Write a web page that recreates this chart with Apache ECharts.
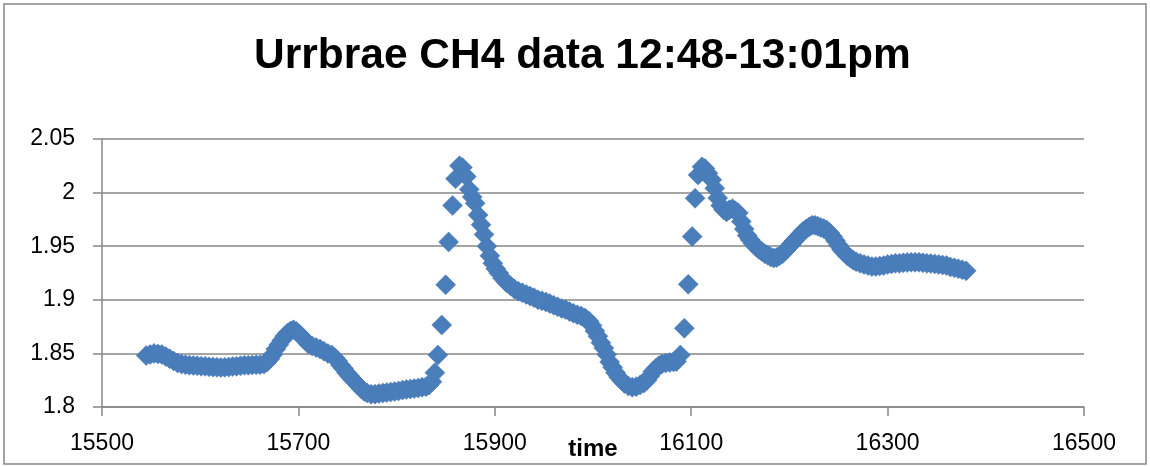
<!DOCTYPE html>
<html>
<head>
<meta charset="utf-8">
<title>Urrbrae CH4 data</title>
<script src="https://cdn.jsdelivr.net/npm/echarts@6/dist/echarts.min.js"></script>
<style>
  html, body { margin: 0; padding: 0; background: #fff; }
  #chart { width: 1150px; height: 466px; }
</style>
</head>
<body>
<div id="chart"></div>
<script>
// time stamps (x) and CH4 readings (y)
const times = [
  15545, 15549, 15553, 15557, 15561, 15565, 15569, 15573, 15577, 15581,
  15585, 15589, 15593, 15597, 15601, 15605, 15609, 15613, 15617, 15621,
  15625, 15629, 15633, 15637, 15641, 15645, 15649, 15653, 15657, 15661,
  15665, 15668, 15671, 15674, 15677, 15680, 15683, 15686, 15689, 15692,
  15695, 15698, 15701, 15704, 15707, 15710, 15714, 15718, 15722, 15726,
  15730, 15734, 15737, 15740, 15743, 15746, 15749, 15752, 15755, 15758,
  15761, 15764, 15767, 15770, 15774, 15778, 15782, 15786, 15790, 15794,
  15798, 15802, 15806, 15810, 15814, 15818, 15822, 15826, 15830, 15833,
  15836, 15839, 15842, 15846, 15850, 15853, 15857, 15860, 15864, 15867,
  15871, 15874, 15877, 15880, 15883, 15886, 15889, 15892, 15895, 15898,
  15901, 15904, 15908, 15912, 15916, 15920, 15924, 15928, 15932, 15936,
  15940, 15944, 15948, 15952, 15956, 15960, 15964, 15968, 15972, 15976,
  15980, 15984, 15988, 15992, 15996, 15999, 16002, 16005, 16008, 16011,
  16014, 16017, 16020, 16023, 16026, 16029, 16032, 16036, 16040, 16044,
  16048, 16052, 16055, 16058, 16061, 16064, 16067, 16070, 16074, 16078,
  16082, 16085, 16089, 16093, 16097, 16101, 16104, 16107, 16111, 16114,
  16117, 16121, 16124, 16127, 16130, 16133, 16136, 16139, 16142, 16145,
  16148, 16151, 16154, 16157, 16160, 16163, 16166, 16169, 16172, 16175,
  16178, 16181, 16184, 16187, 16190, 16193, 16196, 16199, 16202, 16205,
  16208, 16211, 16214, 16217, 16220, 16223, 16226, 16229, 16232, 16235,
  16238, 16241, 16244, 16247, 16250, 16253, 16256, 16259, 16262, 16265,
  16268, 16272, 16276, 16280, 16284, 16288, 16292, 16296, 16300, 16304,
  16308, 16312, 16316, 16320, 16324, 16328, 16332, 16336, 16340, 16344,
  16348, 16352, 16356, 16360, 16364, 16368, 16372, 16376, 16380
];

const ch4 = [
  1.848, 1.849, 1.850, 1.8495, 1.849, 1.847, 1.845, 1.843, 1.841, 1.840,
  1.8395, 1.839, 1.8388, 1.8385, 1.838, 1.838, 1.8375, 1.8372, 1.837, 1.8368,
  1.837, 1.8372, 1.8378, 1.838, 1.8385, 1.839, 1.839, 1.8392, 1.8395, 1.8395,
  1.840, 1.842, 1.845, 1.849, 1.854, 1.858, 1.862, 1.866, 1.869, 1.871,
  1.872, 1.8705, 1.868, 1.865, 1.862, 1.859, 1.857, 1.8555, 1.854, 1.852,
  1.850, 1.8485, 1.846, 1.843, 1.839, 1.836, 1.832, 1.829, 1.826, 1.823,
  1.820, 1.817, 1.8145, 1.813, 1.812, 1.812, 1.8125, 1.813, 1.8135, 1.814,
  1.8145, 1.815, 1.8158, 1.8163, 1.8168, 1.8172, 1.8177, 1.8185, 1.819, 1.8205,
  1.8235, 1.832, 1.8485, 1.8765, 1.914, 1.954, 1.988, 2.013, 2.025, 2.0235,
  2.015, 2.003, 1.996, 1.990, 1.979, 1.970, 1.961, 1.950, 1.941, 1.934,
  1.929, 1.925, 1.920, 1.916, 1.913, 1.910, 1.908, 1.9065, 1.905, 1.9035,
  1.902, 1.900, 1.899, 1.898, 1.8965, 1.895, 1.8935, 1.892, 1.891, 1.889,
  1.8875, 1.886, 1.885, 1.883, 1.880, 1.876, 1.871, 1.866, 1.860, 1.855,
  1.849, 1.842, 1.837, 1.832, 1.828, 1.825, 1.822, 1.8195, 1.8185, 1.819,
  1.8205, 1.8225, 1.825, 1.829, 1.833, 1.836, 1.8385, 1.840, 1.841, 1.8415,
  1.842, 1.8425, 1.8485, 1.8734, 1.9145, 1.959, 1.9947, 2.0164, 2.024, 2.0225,
  2.018, 2.012, 2.004, 1.995, 1.988, 1.984, 1.982, 1.984, 1.985, 1.983,
  1.981, 1.973, 1.966, 1.960, 1.956, 1.9525, 1.9495, 1.947, 1.945, 1.943,
  1.9415, 1.940, 1.939, 1.9395, 1.941, 1.943, 1.946, 1.949, 1.952, 1.955,
  1.958, 1.961, 1.964, 1.966, 1.968, 1.9695, 1.9695, 1.9685, 1.9675, 1.9665,
  1.965, 1.9625, 1.959, 1.955, 1.951, 1.947, 1.944, 1.941, 1.939, 1.937,
  1.9355, 1.934, 1.933, 1.932, 1.931, 1.931, 1.9315, 1.932, 1.933, 1.9335,
  1.934, 1.934, 1.9345, 1.9348, 1.935, 1.935, 1.935, 1.9345, 1.934, 1.9338,
  1.9335, 1.933, 1.9325, 1.932, 1.9305, 1.9298, 1.929, 1.928, 1.927
];

const xTicks = { min: 15500, max: 16500, step: 200 };
const yTicks = { min: 1.8, max: 2.05, step: 0.05 };

const chart = echarts.init(document.getElementById('chart'));

const axisGray = '#878787';
const font = 'Liberation Sans, Arial, sans-serif';

const option = {
  animation: false,
  backgroundColor: '#fff',
  textStyle: { fontFamily: font },
  title: {
    text: 'Urrbrae CH4 data 12:48-13:01pm',
    left: 249,
    top: 30,
    textStyle: {
      fontFamily: font,
      fontSize: 42.5,
      fontWeight: 'bold',
      color: '#000'
    }
  },
  // outer border of the chart area
  graphic: [
    {
      type: 'rect',
      shape: { x: 4, y: 4, width: 1142, height: 460 },
      style: { fill: 'none', stroke: axisGray, lineWidth: 1.5 },
      silent: true
    }
  ],
  grid: {
    left: 102,
    right: 66,
    top: 139,
    bottom: 59,
    containLabel: false,
    outerBoundsMode: 'none'
  },
  xAxis: {
    type: 'value',
    min: xTicks.min,
    max: xTicks.max,
    interval: xTicks.step,
    name: 'time',
    nameLocation: 'middle',
    nameGap: 30,
    nameMoveOverlap: false,
    nameTextStyle: {
      fontFamily: font,
      fontSize: 24,
      fontWeight: 'bold',
      color: '#000'
    },
    axisLine: { onZero: false, lineStyle: { color: axisGray, width: 1.5 } },
    axisTick: { show: true, inside: false, length: 9, lineStyle: { color: axisGray, width: 1.5 } },
    axisLabel: {
      fontSize: 23,
      color: '#000',
      margin: 25,
      formatter: v => String(v)
    },
    splitLine: { show: false }
  },
  yAxis: {
    type: 'value',
    min: yTicks.min,
    max: yTicks.max,
    interval: yTicks.step,
    axisLine: { show: true, lineStyle: { color: axisGray, width: 1.5 } },
    axisTick: { show: true, inside: false, length: 9, lineStyle: { color: axisGray, width: 1.5 } },
    axisLabel: {
      fontSize: 23,
      color: '#000',
      margin: 27,
      formatter: v => String(Math.round(v * 100) / 100)
    },
    splitLine: { show: true, lineStyle: { color: axisGray, width: 1.5 } }
  },
  series: [
    {
      type: 'scatter',
      symbol: 'diamond',
      symbolSize: 20,
      data: times.map((t, i) => [t, ch4[i]]),
      itemStyle: {
        color: '#4a7ebb',
        borderColor: '#4677b6',
        borderWidth: 0.5,
        opacity: 1
      }
    }
  ]
};

chart.setOption(option);
</script>
</body>
</html>
